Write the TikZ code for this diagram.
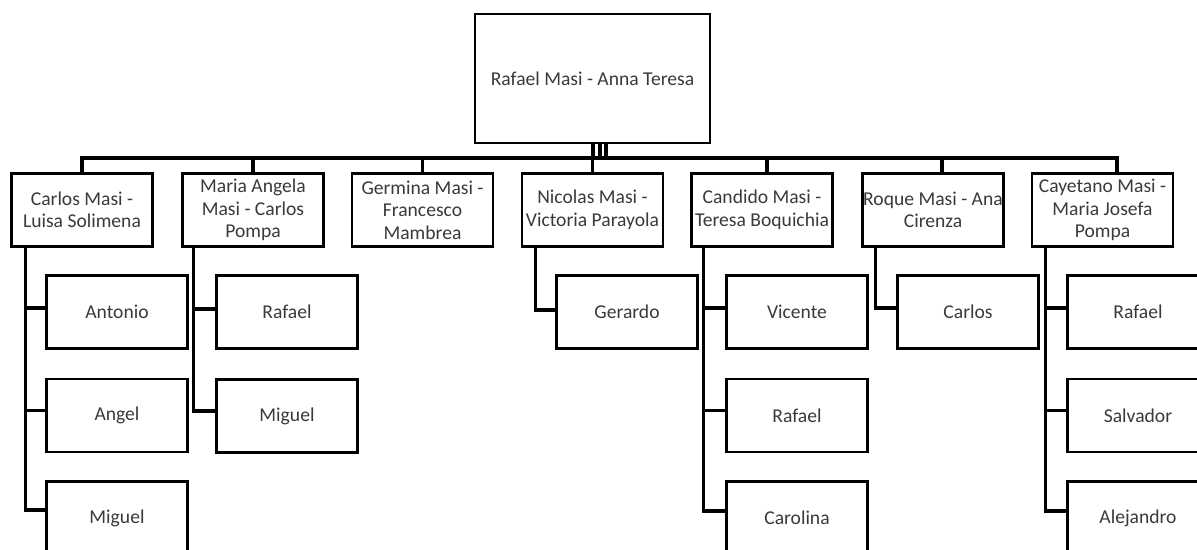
\documentclass[tikz,border=0pt]{standalone}
\usepackage{fontspec}
\setmainfont{Carlito}
\definecolor{txt}{HTML}{3A3A3A}
\begin{document}
\begin{tikzpicture}[x=1pt,y=-1pt,
  box/.style={draw=black, line width=2.3pt, fill=white, rectangle, inner sep=0pt,
    minimum width=141pt, minimum height=73pt, align=center, text=txt,
    font=\fontsize{19.6}{22.5}\selectfont},
  conn/.style={draw=black, line width=3.2pt}]
\useasboundingbox (0,0) rectangle (1197,549);
\clip (0,0) rectangle (1197,549);
% root
\node[box, minimum width=235pt, minimum height=129pt] (root) at (592.5,78.5) {Rafael Masi - Anna Teresa};
% level 2
\node[box] (n1) at (82,210) {Carlos Masi -\\Luisa Solimena};
\node[box] (n2) at (253,210) {Maria Angela\\Masi - Carlos\\Pompa};
\node[box] (n3) at (422.5,210) {Germina Masi -\\Francesco\\Mambrea};
\node[box] (n4) at (592.5,210) {Nicolas Masi -\\Victoria Parayola};
\node[box] (n5) at (762,210) {Candido Masi -\\Teresa Boquichia};
\node[box] (n6) at (933,210) {Roque Masi - Ana\\Cirenza};
\node[box] (n7) at (1102.5,210) {Cayetano Masi -\\Maria Josefa\\Pompa};
% level 3
\node[box] (c1a) at (117,312) {Antonio};
\node[box] (c1b) at (117,415.5) {Angel};
\node[box] (c1c) at (117,518) {Miguel};
\node[box] (c2a) at (287,312) {Rafael};
\node[box] (c2b) at (287,416) {Miguel};
\node[box] (c4a) at (627,312) {Gerardo};
\node[box] (c5a) at (797,312) {Vicente};
\node[box] (c5b) at (797,415.5) {Rafael};
\node[box] (c5c) at (797,518) {Carolina};
\node[box] (c6a) at (968,312) {Carlos};
\node[box] (c7a) at (1138,312) {Rafael};
\node[box] (c7b) at (1138,415.5) {Salvador};
\node[box] (c7c) at (1138,518) {Alejandro};
% bus
\coordinate (bus) at (600,158);
\draw[conn] ([xshift=0.5pt]root.south) -- ([xshift=0.5pt]root.south |- bus);
\draw[conn] ([xshift=7.5pt]root.south) -- ([xshift=7.5pt]root.south |- bus);
\draw[conn] ([xshift=13.5pt]root.south) -- ([xshift=13.5pt]root.south |- bus);
\draw[conn] (n1.north) -- (n1.north |- bus) -- ([xshift=14.5pt]n7.north |- bus) -- ([xshift=14.5pt]n7.north);
\draw[conn] (n2.north) -- (n2.north |- bus);
\draw[conn] (n3.north) -- (n3.north |- bus);
\draw[conn] (n4.north) -- (n4.north |- bus);
\draw[conn] ([xshift=5pt]n5.north) -- ([xshift=5pt]n5.north |- bus);
\draw[conn] ([xshift=9pt]n6.north) -- ([xshift=9pt]n6.north |- bus);
% children
\draw[conn] ([xshift=15pt]n1.south west) |- ([yshift=4pt]c1a.west);
\draw[conn] ([xshift=15pt]n1.south west) |- ([yshift=5pt]c1b.west);
\draw[conn] ([xshift=15pt]n1.south west) |- ([yshift=8pt]c1c.west);
\draw[conn] ([xshift=12pt]n2.south west) |- ([yshift=3pt]c2a.west);
\draw[conn] ([xshift=12pt]n2.south west) |- ([yshift=5pt]c2b.west);
\draw[conn] ([xshift=15pt]n4.south west) |- ([yshift=2pt]c4a.west);
\draw[conn] ([xshift=13pt]n5.south west) |- ([yshift=4pt]c5a.west);
\draw[conn] ([xshift=13pt]n5.south west) |- ([yshift=5pt]c5b.west);
\draw[conn] ([xshift=13pt]n5.south west) |- ([yshift=7pt]c5c.west);
\draw[conn] ([xshift=14pt]n6.south west) |- ([yshift=4pt]c6a.west);
\draw[conn] ([xshift=15pt]n7.south west) |- ([yshift=4pt]c7a.west);
\draw[conn] ([xshift=15pt]n7.south west) |- ([yshift=5pt]c7b.west);
\draw[conn] ([xshift=15pt]n7.south west) |- ([yshift=7pt]c7c.west);
\end{tikzpicture}
\end{document}
